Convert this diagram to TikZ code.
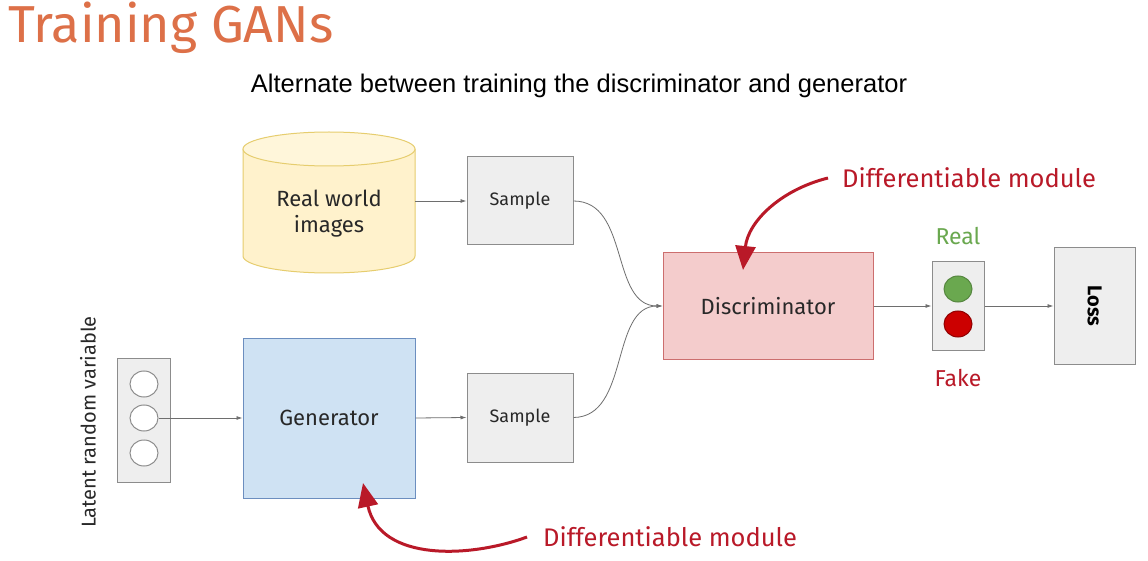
\documentclass[tikz,border=0pt]{standalone}
\usepackage{fontspec}
\setmainfont{Fira Sans}
\newfontfamily\arialfont{Liberation Sans}
\usetikzlibrary{arrows.meta,shapes.geometric}
\definecolor{titleorange}{RGB}{221,112,72}
\definecolor{boxgray}{RGB}{238,238,238}
\definecolor{linegray}{RGB}{140,140,140}
\definecolor{wiregray}{RGB}{110,110,110}
\definecolor{dbyellow}{RGB}{255,242,204}
\definecolor{dbyellowtop}{RGB}{255,246,218}
\definecolor{dbyellowline}{RGB}{230,205,110}
\definecolor{genblue}{RGB}{207,226,243}
\definecolor{genblueline}{RGB}{108,142,191}
\definecolor{discpink}{RGB}{244,204,204}
\definecolor{discpinkline}{RGB}{204,110,110}
\definecolor{notered}{RGB}{185,25,40}
\definecolor{realgreen}{RGB}{106,168,79}
\definecolor{fakered}{RGB}{204,0,0}
\definecolor{textdark}{RGB}{40,40,40}
\tikzset{
  graybox/.style={draw=linegray, fill=boxgray, line width=1pt, inner sep=0pt},
  wire/.style={draw=wiregray, line width=0.8pt, -{Latex[length=6pt,width=4pt]}},
  notearrow/.style={draw=notered, line width=3pt, -{Triangle[length=24pt,width=20pt]}},
  notetext/.style={text=notered, font=\fontsize{25.5}{30}\selectfont, inner sep=0pt},
  bigtext/.style={text=textdark, font=\fontsize{22}{26}\selectfont},
  smalltext/.style={text=textdark, font=\fontsize{18}{21}\selectfont},
  dot/.style={ellipse, minimum width=28pt, minimum height=26pt, inner sep=0pt, line width=1pt}
}
\begin{document}
\begin{tikzpicture}[x=1pt,y=-1pt]
\useasboundingbox (0,0) rectangle (1148,561);
\fill[white] (0,0) rectangle (1148,561);

% heading and subtitle
\node[anchor=west, text=titleorange, font=\fontsize{52}{58}\selectfont, inner sep=0pt] (title) at (8,28) {Training GANs};
\node[font=\arialfont\fontsize{25.5}{30}\selectfont, text=black, inner sep=0pt] (subtitle) at (579,86) {Alternate between training the discriminator and generator};

% real data source: a database cylinder
\path[fill=dbyellow, draw=dbyellowline, line width=1pt]
  (243,149) -- (243,256) arc[start angle=180, end angle=0, x radius=86, y radius=17] -- (415,149);
\path[fill=dbyellowtop, draw=dbyellowline, line width=1pt] (329,149) ellipse[x radius=86, y radius=17];
\node[minimum width=172pt, minimum height=141pt, inner sep=0pt] (real) at (329,202.5) {};
\node[align=center, bigtext, inner sep=0pt] (reallbl) at (329,214) {Real world\\images};
\node[graybox, minimum width=106pt, minimum height=88pt, smalltext] (sample1) at (520,201) {Sample};

% latent vector
\node[graybox, minimum width=53pt, minimum height=124pt] (latent) at (143.5,420) {};
\node[dot, draw=linegray, fill=white] (z1) at (144,384) {};
\node[dot, draw=linegray, fill=white] (z2) at (144,418) {};
\node[dot, draw=linegray, fill=white] (z3) at (144,453) {};
\node[rotate=90, text=textdark, font=\fontsize{20}{24}\selectfont, inner sep=0pt] (latentlabel) at (88,422) {Latent random variable};

% generator
\node[draw=genblueline, fill=genblue, line width=1pt, minimum width=172pt, minimum height=160pt, inner sep=0pt, bigtext] (gen) at (329,418) {Generator};
\node[graybox, minimum width=106pt, minimum height=89pt, smalltext] (sample2) at (520,417.5) {Sample};

% discriminator
\node[draw=discpinkline, fill=discpink, line width=1pt, minimum width=210pt, minimum height=106pt, inner sep=0pt, bigtext] (disc) at (768,306) {Discriminator};

% output indicator
\node[graybox, minimum width=52pt, minimum height=88pt] (out) at (958,306) {};
\node[dot, draw=realgreen!80!black, fill=realgreen] (green) at (958,289) {};
\node[dot, draw=fakered!70!black, fill=fakered] (red) at (958,324) {};
\node[text=realgreen, font=\fontsize{23}{27}\selectfont, inner sep=0pt] (reallabel) at (958,236) {Real};
\node[text=notered, font=\fontsize{23}{27}\selectfont, inner sep=0pt] (fakelabel) at (958,378) {Fake};

% loss
\node[graybox, minimum width=81pt, minimum height=116pt] (loss) at (1094.5,306) {};
\node[rotate=-90, font=\bfseries\fontsize{20}{24}\selectfont, text=black, inner sep=0pt] (losslabel) at (loss.center) {Loss};

% connectors
\draw[wire] (real.east |- sample1.west) -- (sample1.west);
\draw[wire] (z2.east) -- (gen.west |- z2.east);
\draw[wire] (gen.east) -- (sample2.west);
\draw[wire] (sample1.east) .. controls (630,201) and (610,306) .. (disc.west);
\draw[wire] (sample2.east) .. controls (630,417) and (610,306) .. (disc.west);
\draw[wire] (disc.east) -- (out.west);
\draw[wire] (out.east) -- (loss.west);

% annotations
\node[notetext, anchor=west] (notedisc) at (842,178) {Differentiable module};
\node[notetext, anchor=west] (notegen) at (543,537) {Differentiable module};
\coordinate (tipdisc) at (743,270);
\coordinate (tipgen) at (363,483);
\draw[notearrow] (notedisc.west) ++(-14,0) .. controls (780,190) and (748,222) .. (tipdisc);
\draw[notearrow] (notegen.west) ++(-16,0) .. controls (470,558) and (380,562) .. (tipgen);
\end{tikzpicture}
\end{document}
